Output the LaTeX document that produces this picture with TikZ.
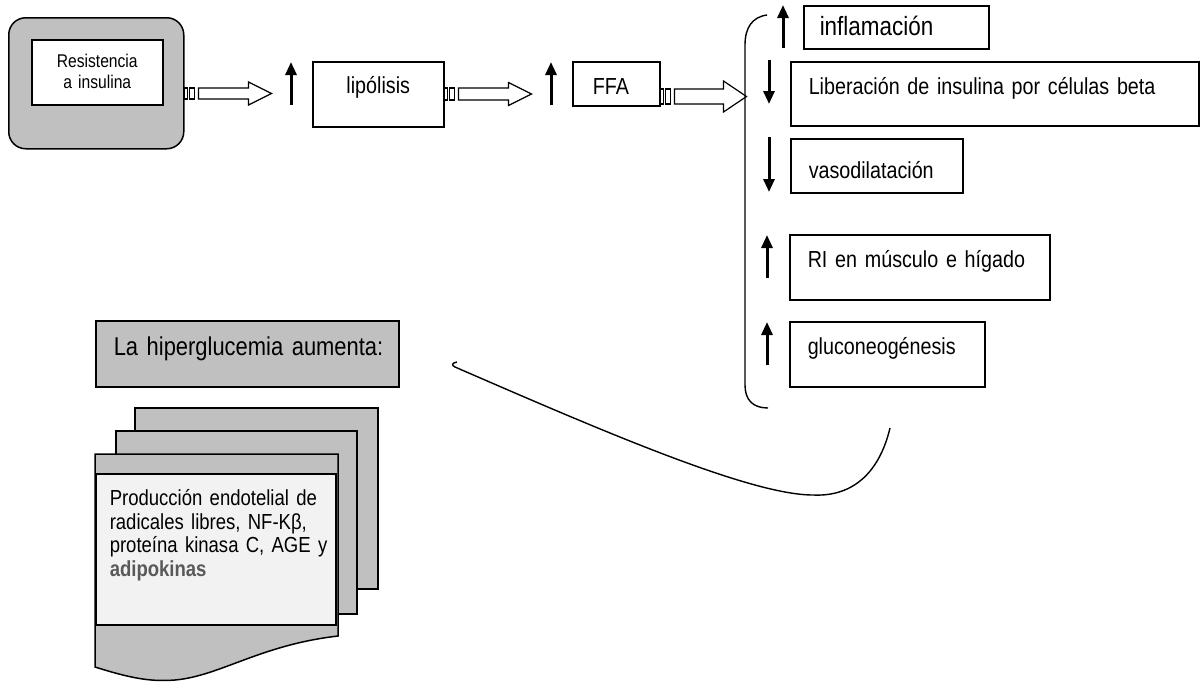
\documentclass[tikz,border=0pt]{standalone}
\usepackage{fontspec}
\setmainfont{Liberation Sans}[FakeStretch=0.85, WordSpace=0.85]
\usetikzlibrary{arrows.meta}
\definecolor{boxgray}{RGB}{192,192,192}
\definecolor{paper}{RGB}{242,242,242}
\definecolor{kingray}{RGB}{89,89,89}
\newcommand\fsmain{\fontsize{11.6}{14}\selectfont}
\newcommand\fsbig{\fontsize{13.2}{15}\selectfont}
\newcommand\fsres{\fontsize{9.2}{10.65}\selectfont}
\newcommand\fshiper{\fontsize{12.9}{15}\selectfont}
\newcommand\fsdoc{\fontsize{10.9}{11.75}\selectfont}
\tikzset{
	box/.style={draw, line width=.75pt, anchor=north west, inner ysep=0pt, align=left, font=\fsmain},
	updown/.style={line width=1.5pt, -{Triangle[width=5.5pt,length=6.5pt]}},
	hollow/.style={draw, fill=white, line width=.6pt},
	page/.style={draw, fill=boxgray, line width=.75pt},
}
\begin{document}
\begin{tikzpicture}[x=.5pt, y=-.5pt]
	\useasboundingbox (0,0) rectangle (1201,681);

	% cadena superior
	\node[box, fill=boxgray, rounded corners=8.5pt, minimum width=87.5pt, minimum height=65.5pt, inner sep=0pt] (resout) at (8,17) {};
	\node[box, fill=white, inner xsep=0pt, text width=65.5pt, align=center, text height=13.85pt, text depth=18.65pt, font=\fsres] (resin) at (31,39) {Resistencia\\a insulina};
	\node[box, inner xsep=0pt, text width=65.5pt, align=center, text height=16pt, text depth=16.5pt] (lip) at (312,61) {lipólisis};
	\node[box, inner xsep=10pt, text width=23.5pt, text height=16.5pt, text depth=5.5pt] (ffa) at (572,61) {FFA};

	% efectos
	\node[box, inner xsep=8pt, text width=76.5pt, text height=15pt, text depth=6.5pt, font=\fsbig] (infl) at (803,5) {inflamación};
	\node[box, inner xsep=9pt, text width=186pt, text height=16.15pt, text depth=15.85pt] (lib) at (790,61) {Liberación de insulina por células beta};
	\node[box, inner xsep=9pt, text width=68pt, text height=20pt, text depth=7pt] (vaso) at (790,138) {vasodilatación};
	\node[box, inner xsep=9pt, text width=112pt, text height=16.35pt, text depth=16.15pt] (ri) at (789,234) {RI en músculo e hígado};
	\node[box, inner xsep=9pt, text width=79.5pt, text height=16.15pt, text depth=16.35pt] (gluco) at (789,321) {\mbox{gluconeogénesis}};

	\foreach \x/\ya/\yb in {291/105/62, 551/105/62, 783/48/5, 769/60/104, 769/137/192, 767/278/235, 767/365/322}{
		\draw[updown] (\x,\ya) -- (\x,\yb);
	}

	\coordinate (tipA) at (270,93.5);
	\coordinate (tipB) at (530,94);
	\coordinate (tipC) at (745,96.5);
	\foreach \src/\tip/\len/\sw/\hw in {resout/tipA/87/5.5/11.5, lip/tipB/87/6/11.5, ffa/tipC/86/7.5/15.5}{
		\begin{scope}[shift={(\src.east |- \tip)}]
			\draw[hollow] (0,-\sw) rectangle (3,\sw);
			\draw[hollow] (5,-\sw) rectangle (10,\sw);
			\draw[hollow] (14,-\sw) -- (\len-23,-\sw) -- (\len-23,-\hw) -- (\len,0) -- (\len-23,\hw) -- (\len-23,\sw) -- (14,\sw) -- cycle;
		\end{scope}
	}

	\draw[line width=.7pt] (767,15) .. controls (752,17) and (745,28) .. (745,45) -- (745,385) .. controls (745,400) and (753,408) .. (768,408);

	% hiperglucemia
	\node[box, fill=boxgray, inner xsep=9pt, text width=133.5pt, text height=17.5pt, text depth=15.5pt, font=\fshiper] (hiper) at (95,320) {\mbox{La hiperglucemia aumenta:}};

	\draw[page] (135,408) rectangle (378,589);
	\draw[page] (116,431) rectangle (357,614);
	\draw[page] (95,454) -- (338,454) -- (338,636) .. controls (260,645) and (220,676) .. (175,680) .. controls (150,682) and (130,678) .. (95,667) -- cycle;
	\node[box, fill=paper, inner xsep=7pt, text width=106pt, text height=16pt, text depth=59.5pt, font=\fsdoc] (doc) at (95,473) {\makebox[106pt][s]{Producción endotelial de}\\\makebox[106pt][s]{radicales libres, NF-Kβ,}\\\makebox[106pt][s]{proteína kinasa C, AGE y}\\{\bfseries\color{kingray}adipokinas}};

	\draw[line width=.7pt] (457,362) .. controls (452,363) and (451,365) .. (455,367) .. controls (600,430) and (750,495) .. (813,495) .. controls (855,497) and (880,470) .. (890,428);
\end{tikzpicture}
\end{document}
